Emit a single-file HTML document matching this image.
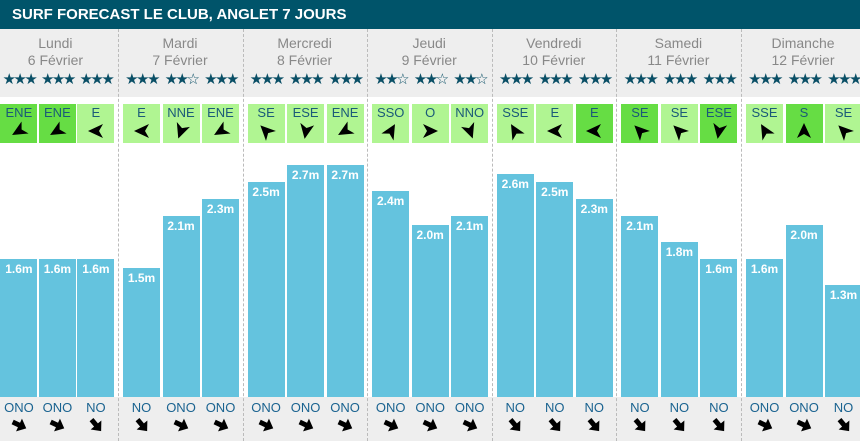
<!DOCTYPE html>
<html><head><meta charset="utf-8"><style>
body{margin:0;width:860px;height:441px;overflow:hidden;background:#fff;font-family:"Liberation Sans",sans-serif;position:relative}
div{position:absolute}
.hdr{left:0;top:0;width:860px;height:29px;background:#00546a;color:#fff;font-weight:bold;font-size:15px;line-height:29px;padding-left:12px;box-sizing:border-box}
.gray{left:0;width:860px;background:#eeeeee}
.sep{top:29px;height:412px;width:0;border-left:1px dashed #bbb}
.day{width:124px;text-align:center;color:#888;font-size:14px;line-height:17px;top:35px}
.st{top:70px;width:37px;text-align:center;color:#0a4f66;font-size:15px;letter-spacing:-2.5px;line-height:18px;font-family:"DejaVu Sans",sans-serif;white-space:nowrap}
.wb{top:104px;width:37px;height:39px;text-align:center;color:#1a5a78;font-size:13px;line-height:18px}
.bar{background:#64c3de;width:37px;color:#fff;font-weight:bold;font-size:12px;text-align:center;line-height:16px;padding-top:2px;box-sizing:border-box}
.sw{top:400px;width:37px;text-align:center;color:#1a6390;font-size:13px;line-height:16px}
svg{position:absolute}
</style></head><body>
<div class="gray" style="top:29px;height:68px"></div>
<div class="gray" style="top:397px;height:44px"></div>
<div class="hdr">SURF FORECAST LE CLUB, ANGLET 7 JOURS</div>
<script>
var days=[["Lundi","6 Février",[1.6,1.6,1.6],["ENE","ENE","E"],"DDL",["ONO","ONO","NO"],[3,3,3]],
["Mardi","7 Février",[1.5,2.1,2.3],["E","NNE","ENE"],"LLL",["NO","ONO","ONO"],[3,2,3]],
["Mercredi","8 Février",[2.5,2.7,2.7],["SE","ESE","ENE"],"LLL",["ONO","ONO","ONO"],[3,3,3]],
["Jeudi","9 Février",[2.4,2.0,2.1],["SSO","O","NNO"],"LLL",["ONO","ONO","ONO"],[2,2,2]],
["Vendredi","10 Février",[2.6,2.5,2.3],["SSE","E","E"],"LLD",["NO","NO","NO"],[3,3,3]],
["Samedi","11 Février",[2.1,1.8,1.6],["SE","SE","ESE"],"DLD",["NO","NO","NO"],[3,3,3]],
["Dimanche","12 Février",[1.6,2.0,1.3],["SSE","S","SE"],"LDL",["ONO","ONO","NO"],[3,3,3]]];
var ang={ENE:240,E:270,NNE:200,SE:315,ESE:190,SSE:330,S:0,SSO:30,O:90,NNO:160};
var sang={ONO:115,NO:140};
var h="";
function arrow(x,y,a){return '<svg style="left:'+(x-10)+'px;top:'+(y-10)+'px" width="20" height="20" viewBox="-10 -10 20 20"><path transform="rotate('+a+')" d="M0,-8 L7,7 L0,3 L-7,7 Z" fill="#000"/></svg>';}
function sarrow(x,y,a){return '<svg style="left:'+(x-10)+'px;top:'+(y-10)+'px" width="20" height="20" viewBox="-10 -10 20 20"><path transform="rotate('+a+')" d="M0,-8 L7,0 L2.5,0 L2.5,7 L-2.5,7 L-2.5,0 L-7,0 Z" fill="#000"/></svg>';}
for(var d=0;d<7;d++){
 var sep=118+124.6*d, x0=sep-124.6+5;
 if(d<6) h+='<div class="sep" style="left:'+sep+'px"></div>';
 var D=days[d];
 h+='<div class="day" style="left:'+(sep-124.6)+'px">'+D[0]+'<br>'+D[1]+'</div>';
 for(var k=0;k<3;k++){
  var x=x0+k*39.5;
  if(d==0) x=x0+2+k*38.5;
  var st="";for(var i=0;i<3;i++)st+=i<D[6][k]?"★":"☆";
  h+='<div class="st" style="left:'+x+'px">'+st+'</div>';
  h+='<div class="wb" style="left:'+x+'px;background:'+(D[4][k]=="D"?"#66dd44":"#b0f592")+'">'+D[3][k]+'</div>';
  h+=arrow(x+18.5,131,ang[D[3][k]]);
  var v=D[2][k],bt=396-85.5*v;
  h+='<div class="bar" style="left:'+x+'px;top:'+bt+'px;height:'+(397-bt)+'px">'+v.toFixed(1)+'m</div>';
  h+='<div class="sw" style="left:'+x+'px">'+D[5][k]+'</div>';
  h+=sarrow(x+18.5,425,sang[D[5][k]]);
 }
}
document.write(h);
</script>
</body></html>
